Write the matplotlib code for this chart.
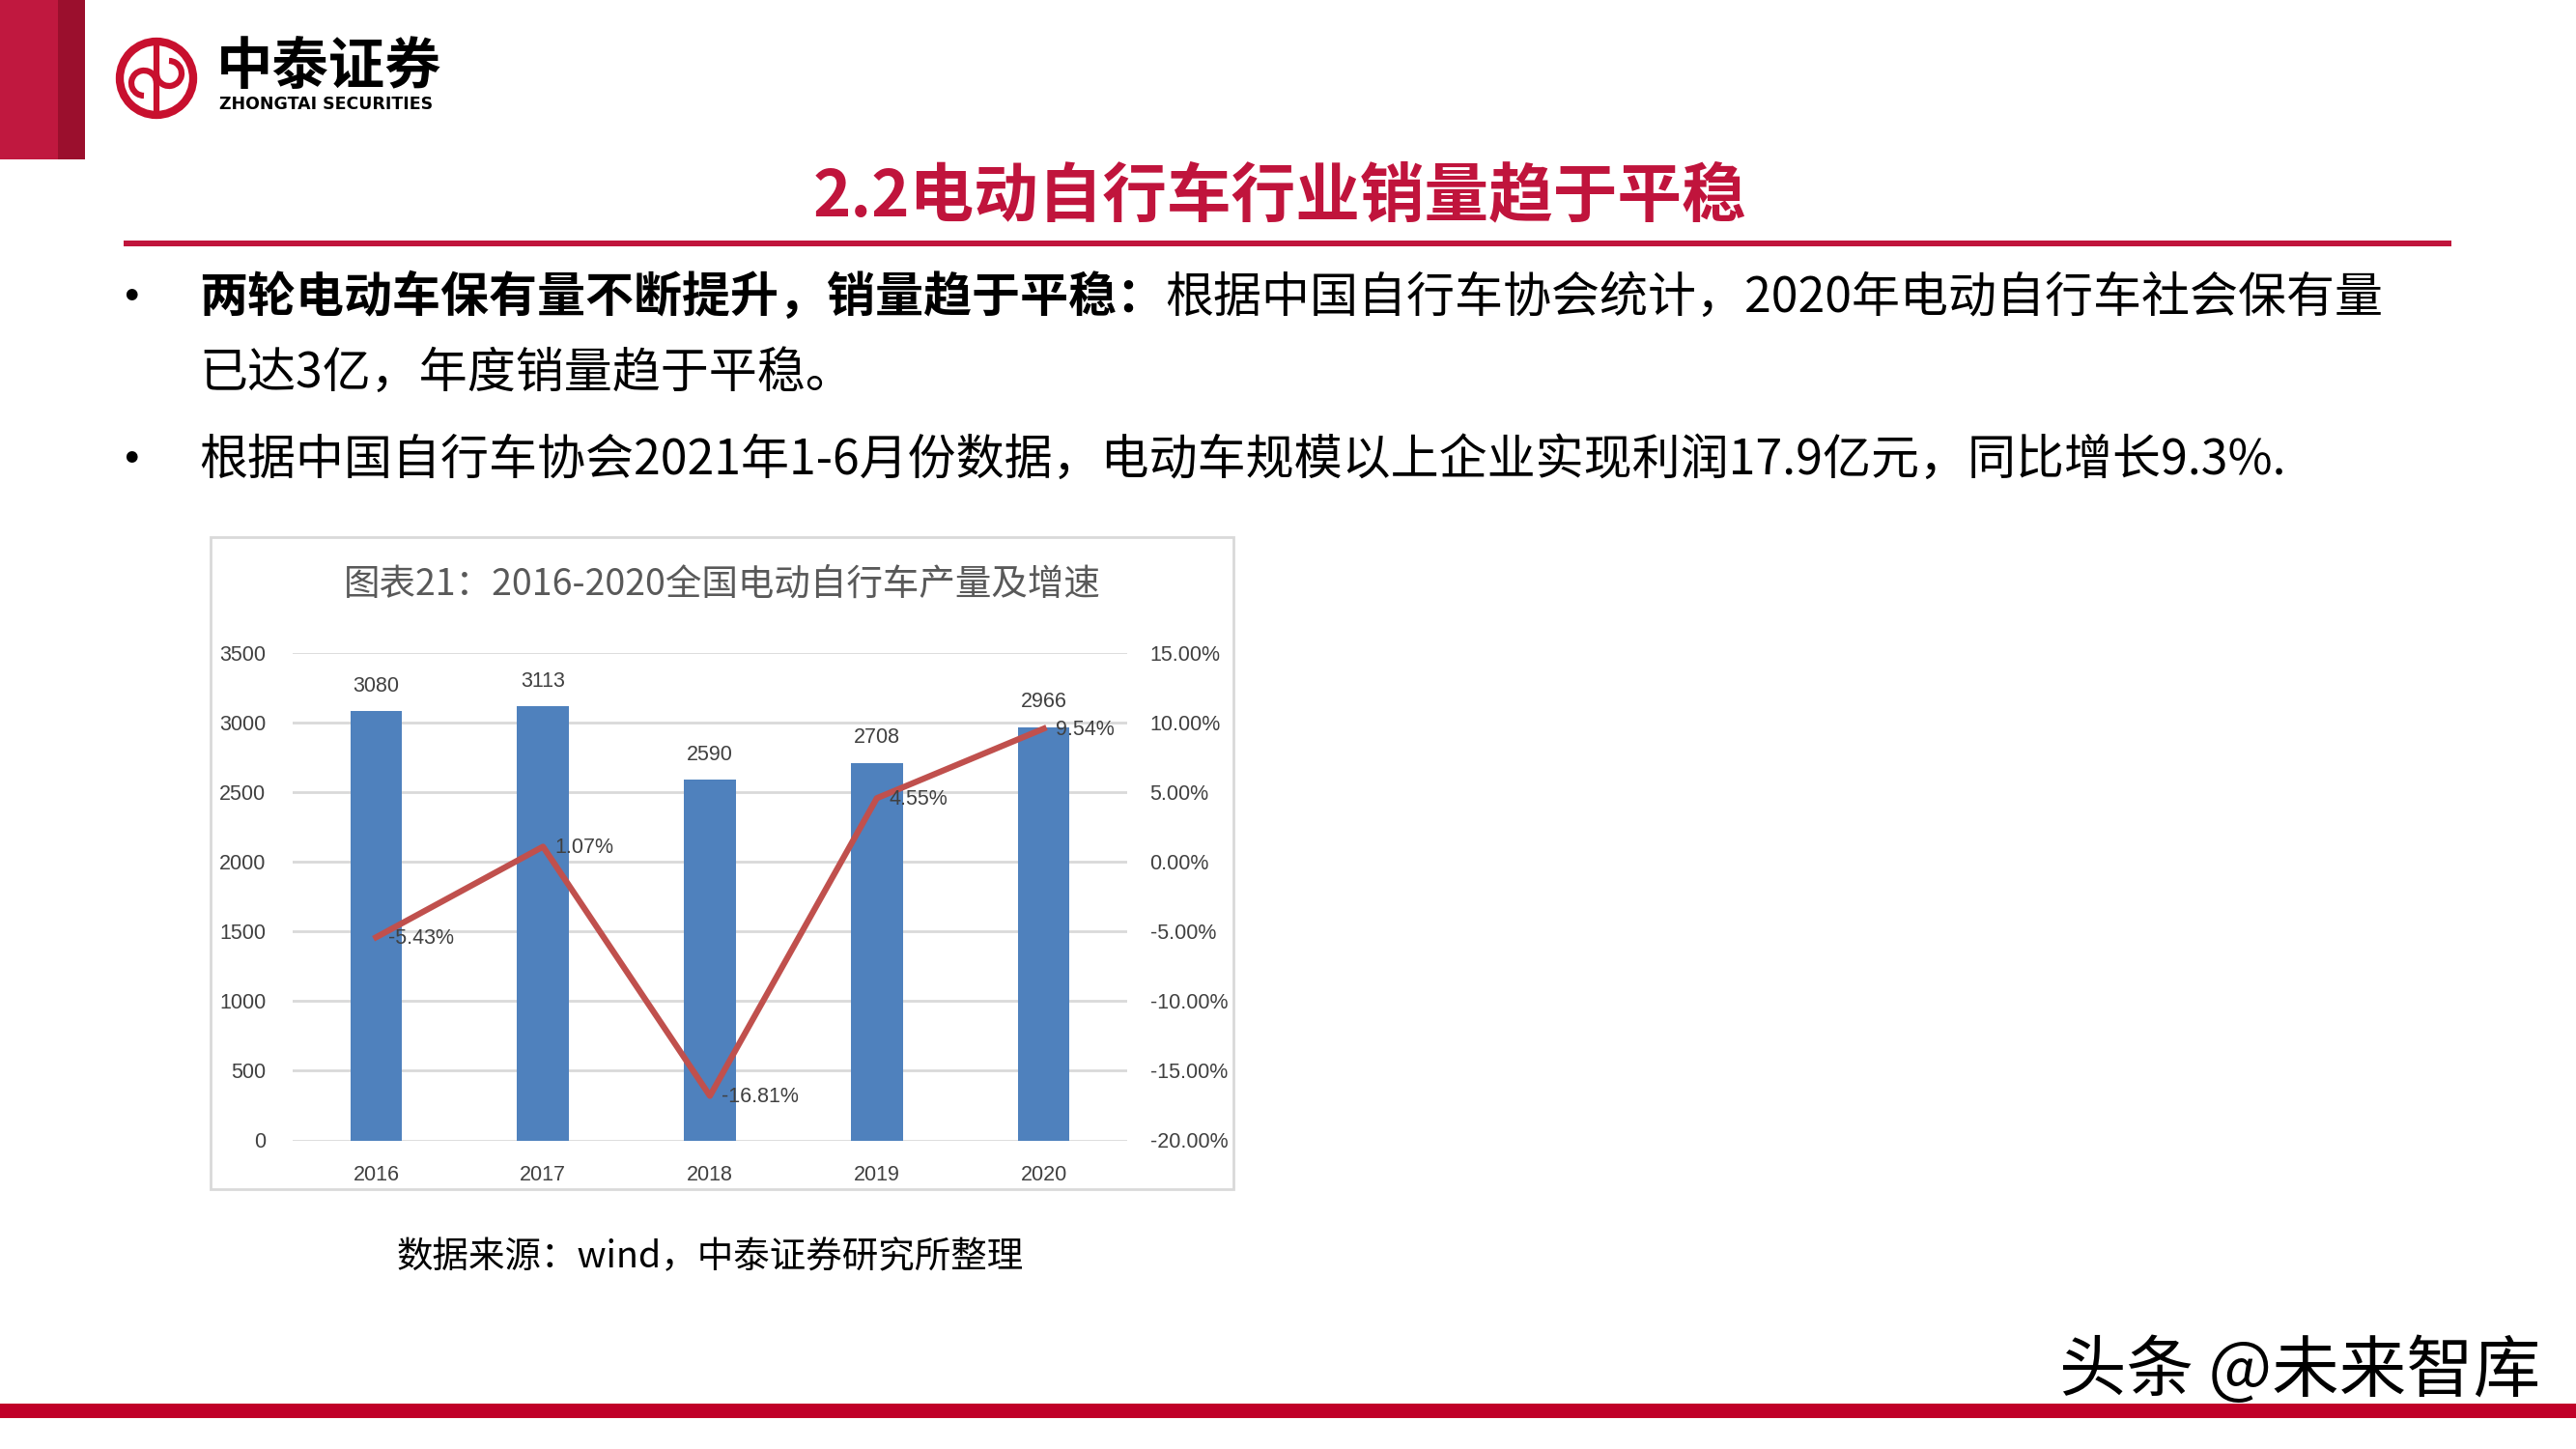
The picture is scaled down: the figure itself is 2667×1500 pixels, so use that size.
import matplotlib
matplotlib.use("Agg")
import matplotlib.pyplot as plt
from matplotlib.patches import Rectangle, Circle, Arc

plt.rcParams['font.family'] = ['Noto Sans CJK SC', 'DejaVu Sans']

# 数据
years = ['2016', '2017', '2018', '2019', '2020']
production = [3080, 3113, 2590, 2708, 2966]           # 产量（万辆）
growth = [-5.43, 1.07, -16.81, 4.55, 9.54]            # 增速（%）
left_ticks = [0, 500, 1000, 1500, 2000, 2500, 3000, 3500]
right_ticks = [-20, -15, -10, -5, 0, 5, 10, 15]

RED = '#C0143C'
BLUE = '#4F81BD'
LINE_RED = '#C0504D'
GRID = '#D9D9D9'
W, H = 2667, 1500

fig = plt.figure(figsize=(W / 100, H / 100), dpi=100)

# 背景层，用像素坐标画页面装饰
bg = fig.add_axes([0, 0, 1, 1])
bg.set_xlim(0, W)
bg.set_ylim(H, 0)
bg.axis('off')

# 左上角色块
bg.add_patch(Rectangle((0, 0), 60, 165, color='#C0183F', lw=0))
bg.add_patch(Rectangle((60, 0), 28, 165, color='#9B0F2D', lw=0))

# logo
bg.add_patch(Circle((162, 81), 38, fill=False, ec='#C8102E', lw=6))
bg.plot([162, 162], [46, 116], color='#C8102E', lw=4.5)
bg.add_patch(Arc((149, 86), 26, 26, theta1=90, theta2=360, color='#C8102E', lw=4.5))
bg.add_patch(Arc((175, 76), 26, 26, theta1=-90, theta2=180, color='#C8102E', lw=4.5))
bg.text(224, 70, '中泰证券', fontsize=42, fontweight='bold', color='black', va='center', ha='left')
bg.text(227, 108, 'ZHONGTAI SECURITIES', fontsize=12.5, fontweight='bold', color='black',
        va='center', ha='left', family='DejaVu Sans')

# 标题
bg.text(1325, 204, '2.2电动自行车行业销量趋于平稳', fontsize=48, fontweight='bold', color=RED,
        ha='center', va='center')
bg.add_patch(Rectangle((128, 249), 2410, 6, color=RED, lw=0))

# 正文
body_fs = 36
bg.text(136, 310, '•', fontsize=40, ha='center', va='center')
t1 = bg.text(206, 309, '两轮电动车保有量不断提升，销量趋于平稳：', fontsize=body_fs,
             fontweight='bold', ha='left', va='center')
bg.annotate('根据中国自行车协会统计，2020年电动自行车社会保有量', xy=(1, 0), xycoords=t1,
            fontsize=body_fs, ha='left', va='bottom')
bg.text(206, 387, '已达3亿，年度销量趋于平稳。', fontsize=body_fs, ha='left', va='center')
bg.text(136, 478, '•', fontsize=40, ha='center', va='center')
bg.text(206, 477, '根据中国自行车协会2021年1-6月份数据，电动车规模以上企业实现利润17.9亿元，同比增长9.3%.',
        fontsize=body_fs, ha='left', va='center')

# 图表外框与标题
bg.add_patch(Rectangle((218, 556), 1059, 675, fill=False, ec=GRID, lw=2))
bg.text(748, 605, '图表21：2016-2020全国电动自行车产量及增速', fontsize=27, color='#595959',
        ha='center', va='center')

# 数据来源
bg.text(735, 1302, '数据来源：wind，中泰证券研究所整理', fontsize=27, color='black',
        ha='center', va='center')

# 底部红线和水印
bg.add_patch(Rectangle((0, 1453), W, 15, color='#C00028', lw=0))
bg.text(2381, 1420, '头条 @未来智库', fontsize=50, color='black', ha='center', va='center')

# 图表
ax = fig.add_axes([303 / W, 1 - 1180.5 / H, 864 / W, 505 / H])
x = list(range(len(years)))
ax.bar(x, production, width=0.31, color=BLUE, zorder=2)
ax.set_xlim(-0.5, len(years) - 0.5)
ax.set_ylim(0, 3500)
ax.set_yticks(left_ticks)
ax.set_xticks(x)
ax.set_xticklabels(years)
ax.grid(axis='y', color=GRID, lw=2, zorder=0)
ax.set_axisbelow(True)
for s in ax.spines.values():
    s.set_visible(False)
ax.tick_params(length=0, labelsize=15.5, colors='#404040')
ax.tick_params(axis='y', pad=20)
ax.tick_params(axis='x', pad=18)
for lab in ax.get_xticklabels() + ax.get_yticklabels():
    lab.set_family('Liberation Sans')
for xi, v in zip(x, production):
    ax.annotate(str(v), (xi, v), xytext=(0, 11), textcoords='offset points',
                ha='center', va='bottom', fontsize=15.5, color='#404040', family='Liberation Sans')

ax2 = ax.twinx()
ax2.plot(x, growth, color=LINE_RED, lw=4.5, zorder=3)
ax2.set_ylim(-20, 15)
ax2.set_yticks(right_ticks)
ax2.set_yticklabels(['{:.2f}%'.format(t) for t in right_ticks], family='Liberation Sans')
ax2.tick_params(length=0, labelsize=15.5, colors='#404040', pad=17)
for s in ax2.spines.values():
    s.set_visible(False)
for xi, g in zip(x, growth):
    ax2.annotate('{:.2f}%'.format(g), (xi, g), xytext=(9, -1), textcoords='offset points',
                 ha='left', va='center', fontsize=15.5, color='#404040', family='Liberation Sans')

fig.savefig('out.png', dpi=100)
